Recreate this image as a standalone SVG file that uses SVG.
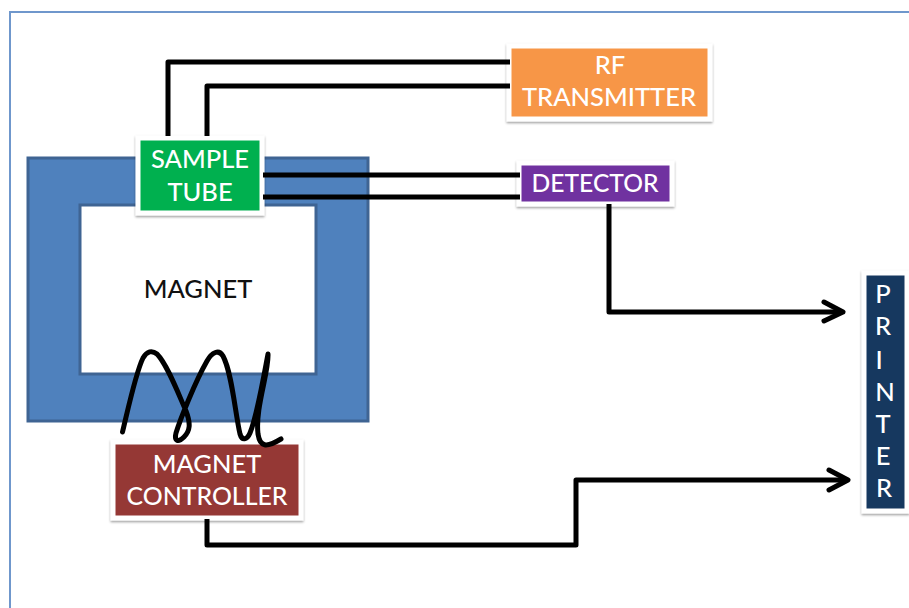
<svg xmlns="http://www.w3.org/2000/svg" width="909" height="608" viewBox="0 0 909 608">
<defs>
<filter id="sh" x="-10%" y="-10%" width="120%" height="125%"><feDropShadow dx="0" dy="1.5" stdDeviation="1.2" flood-color="#000" flood-opacity="0.4"/></filter>
</defs>
<style>
.box{stroke:#fff;stroke-width:5;filter:url(#sh)}
.t{font-family:Lato,"Liberation Sans",sans-serif;font-size:25.500px;font-weight:500;fill:#fff;text-anchor:middle}
.w{fill:none;stroke:#000;stroke-width:5;stroke-linejoin:round}
</style>
<rect width="909" height="608" fill="#fff"/>
<path d="M909 12H10V608" fill="none" stroke="#6f97cc" stroke-width="2"/>
<g id="magnet">
<path fill-rule="evenodd" d="M28 158H368V421H28ZM80 205V374H316V205Z" fill="#4f81bd" stroke="#3f6493" stroke-width="3"/>
<text x="198" y="298" style="font-family:Lato,'Liberation Sans',sans-serif;font-size:25.500px;font-weight:500;fill:#111;text-anchor:middle">MAGNET</text>
</g>
<g id="rf-transmitter">
<rect class="box" x="509" y="46" width="201" height="73" fill="#f79646"/>
<text class="t" x="610" y="74">RF</text><text class="t" x="609" y="106">TRANSMITTER</text>
</g>
<g id="sample-tube">
<rect class="box" x="138" y="138" width="124" height="75" fill="#00b050"/>
<text class="t" x="200" y="168">SAMPLE</text><text class="t" x="200" y="201">TUBE</text>
</g>
<g id="detector">
<rect class="box" x="519" y="163" width="153" height="41" fill="#7030a0"/>
<text class="t" x="595" y="192" textLength="127" lengthAdjust="spacingAndGlyphs">DETECTOR</text>
</g>
<g id="magnet-controller">
<rect class="box" x="113" y="442" width="188" height="76" fill="#953735"/>
<text class="t" x="207" y="473">MAGNET</text><text class="t" x="207" y="505" textLength="161" lengthAdjust="spacingAndGlyphs">CONTROLLER</text>
</g>
<g id="printer">
<rect class="box" x="864" y="273" width="43" height="238" fill="#17375e"/>
<text class="t" x="883" y="303">P</text><text class="t" x="883" y="335">R</text><text class="t" x="879" y="369">I</text><text class="t" x="885" y="401">N</text><text class="t" x="883" y="433">T</text><text class="t" x="883" y="465">E</text><text class="t" x="884" y="497">R</text>
</g>
<g id="connectors">
<path class="w" d="M168 136V62H510"/>
<path class="w" d="M207 136V86H510"/>
<path class="w" d="M263 175H520"/>
<path class="w" d="M263 197H520"/>
<path class="w" d="M609 204V312H842"/>
<path class="w" d="M207 519V545H576V480H847"/>
<path class="w" stroke-linecap="round" d="M824 302L843 312L824 321"/>
<path class="w" stroke-linecap="round" d="M829 470L848 480L829 490"/>
<path id="coil" fill="none" stroke="#000" stroke-width="5" stroke-linecap="round" stroke-linejoin="round" d="M122.500 432C129 405 136 372 143 358C147 351 152 350 157 354C167 364 178 393 186 411C191 424 190 431 184 437C178 443 174 441 176 433C180 420 195 382 207 361C212 352 219 349 223 356C232 373 235 412 240 434C242 441 247 440 250 433C257 416 264 375 268 354C269 372 255 408 258 434C260 447 266 448 281 439"/>
</g>
</svg>
